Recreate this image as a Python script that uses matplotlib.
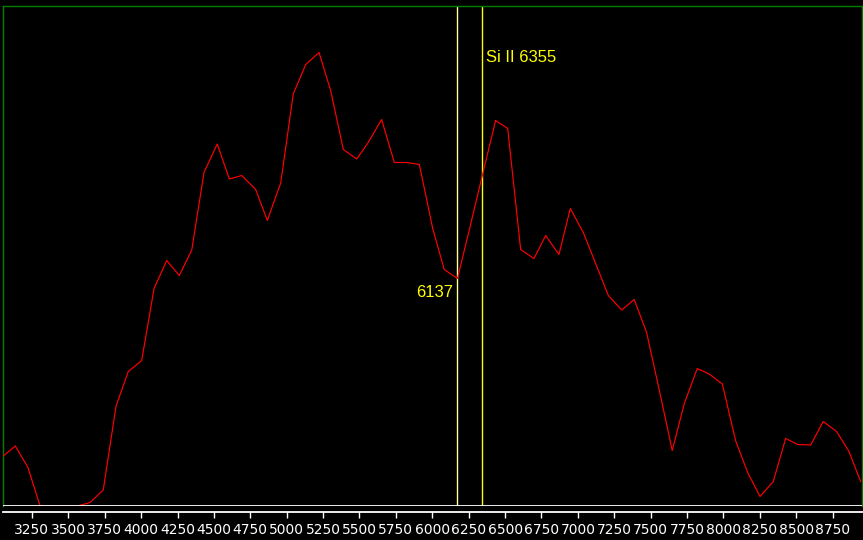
import matplotlib
matplotlib.use("Agg")
import matplotlib.pyplot as plt
from matplotlib import font_manager

# Spectrum (wavelength in Angstrom, relative flux)
wavelength = [3049, 3136, 3223, 3306, 3392, 3479, 3565, 3649, 3740, 3828,
              3912, 4004, 4089, 4176, 4262, 4348, 4432, 4523, 4606, 4691,
              4787, 4867, 4959, 5045, 5131, 5222, 5302, 5389, 5481, 5560,
              5652, 5739, 5824, 5911, 6003, 6082, 6173, 6259, 6346, 6435,
              6518, 6607, 6698, 6779, 6870, 6948, 7037, 7122, 7209, 7301,
              7387, 7472, 7559, 7648, 7731, 7820, 7902, 7992, 8084, 8166,
              8251, 8342, 8427, 8510, 8599, 8685, 8777, 8862, 8942]
flux = [0.099, 0.120, 0.077, 0.000, 0.000, 0.000, 0.000, 0.007, 0.032, 0.200,
        0.269, 0.291, 0.435, 0.491, 0.461, 0.512, 0.667, 0.724, 0.654, 0.661,
        0.633, 0.571, 0.646, 0.824, 0.883, 0.907, 0.831, 0.713, 0.694, 0.727,
        0.773, 0.687, 0.687, 0.683, 0.555, 0.473, 0.455, 0.558, 0.664, 0.771,
        0.755, 0.513, 0.495, 0.541, 0.503, 0.595, 0.547, 0.485, 0.421, 0.392,
        0.413, 0.347, 0.232, 0.111, 0.205, 0.275, 0.264, 0.244, 0.130, 0.067,
        0.019, 0.049, 0.135, 0.123, 0.122, 0.169, 0.149, 0.109, 0.049]

tick_values = [3250, 3500, 3750, 4000, 4250, 4500, 4750, 5000, 5250, 5500,
               5750, 6000, 6250, 6500, 6750, 7000, 7250, 7500, 7750, 8000,
               8250, 8500, 8750]

marker_min_x = 6173
marker_min_label = "6137"
marker_line_x = 6343
marker_line_label = "Si II 6355"

x_range = (3048, 8948)
y_range = (0.0, 1.0)

installed = {f.name for f in font_manager.fontManager.ttflist}
if "Liberation Sans Narrow" in installed:
    font = ["Liberation Sans Narrow", "DejaVu Sans"]
    tick_fs, label_fs = 9, 13.5
else:
    font = ["Liberation Sans", "DejaVu Sans"]
    tick_fs, label_fs = 8, 12

W, H, DPI = 863, 540, 100
fig = plt.figure(figsize=(W / DPI, H / DPI), dpi=DPI, facecolor="black")
ax = fig.add_axes([2.5 / W, (H - 506) / H, (861.5 - 2.5) / W, 500 / H])
ax.set_facecolor("black")

ax.plot(wavelength, flux, color="#ff0000", lw=0.85, zorder=3)
ax.axhline(0, color="white", lw=1.3, zorder=4)

ax.axvline(marker_min_x, color="#ffffa0", lw=1.0, zorder=2)
ax.axvline(marker_line_x, color="#ffff00", lw=1.0, zorder=2)

ax.annotate(marker_line_label, xy=(marker_line_x, 0.8886),
            xycoords=("data", "axes fraction"), xytext=(3.0, 0),
            textcoords="offset points", ha="left", va="baseline",
            color="#ffff00", fontsize=label_fs, family=font)
ax.annotate(marker_min_label, xy=(marker_min_x, 0.4174),
            xycoords=("data", "axes fraction"), xytext=(-3.0, 0),
            textcoords="offset points", ha="right", va="baseline",
            color="#ffff00", fontsize=label_fs, family=font)

ax.set_xlim(*x_range)
ax.set_ylim(*y_range)
ax.set_yticks([])
ax.set_xticks(tick_values)
ax.set_xticklabels([str(v) for v in tick_values], family=font,
                   fontsize=tick_fs, color="white")
ax.tick_params(axis="x", colors="white", direction="out", length=4.3,
               width=1.0, pad=3.3, labelcolor="white")

for side in ("left", "right", "top"):
    ax.spines[side].set_color("#008000")
    ax.spines[side].set_linewidth(1.0)
ax.spines["bottom"].set_position(("outward", 4.4))
ax.spines["bottom"].set_color("white")
ax.spines["bottom"].set_linewidth(1.3)

fig.savefig("out.png", dpi=DPI, facecolor="black")
